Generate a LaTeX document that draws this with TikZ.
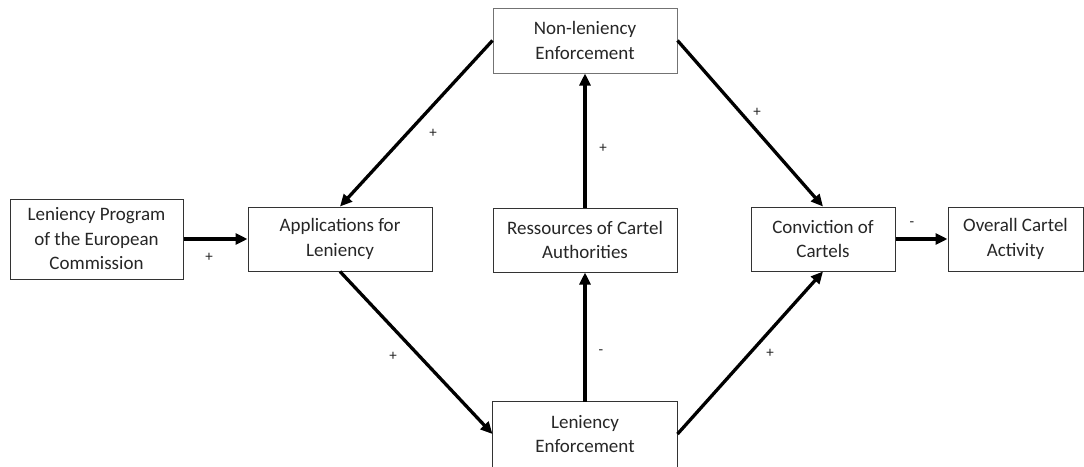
\documentclass[tikz,border=0pt]{standalone}
\usepackage{fontspec}
\setmainfont{Carlito}
\usetikzlibrary{arrows.meta}
\begin{document}
\begin{tikzpicture}[x=1pt,y=-1pt,
  box/.style={draw=black!80,line width=1pt,align=center,inner sep=0pt,
    text=black!85,font=\fontsize{19}{24.5}\selectfont},
  conn/.style={line width=3.3pt,-{Triangle[length=12pt,width=11pt]}},
  sign/.style={text=black!85,font=\fontsize{15}{16}\selectfont,inner sep=0pt}]
\useasboundingbox[fill=white] (0,0) rectangle (1084,466);
\node[box,minimum width=173pt,minimum height=80pt] (lp) at (96.5,239) {Leniency Program\\of the European\\Commission};
\node[box,minimum width=184pt,minimum height=64pt] (app) at (340,239) {Applications for\\Leniency};
\node[box,minimum width=184pt,minimum height=64pt] (res) at (585,240) {Ressources of Cartel\\Authorities};
\node[box,draw=black!55,minimum width=184pt,minimum height=65pt] (nl) at (585,40.5) {Non-leniency\\Enforcement};
\node[box,draw=none,minimum width=184pt,minimum height=64pt] (le) at (585,434) {Leniency\\Enforcement};
\draw[black!80,line width=1pt] (le.north west) rectangle ([yshift=-12pt]le.south east);
\node[box,minimum width=144pt,minimum height=64pt] (conv) at (823,239) {Conviction of\\Cartels};
\node[box,minimum width=135pt,minimum height=64pt] (ov) at (1015.5,239) {Overall Cartel\\Activity};
\draw[conn] (lp.east) -- (app.west);
\draw[conn] (nl.west) -- (app.north);
\draw[conn] (app.south) -- (le.west);
\draw[conn] (le.north) -- (res.south);
\draw[conn] (res.north) -- (nl.south);
\draw[conn] (nl.east) -- (conv.north);
\draw[conn] (le.east) -- (conv.south);
\draw[conn] (conv.east) -- (ov.west);
\node[sign] (s1) at (209,257) {+};
\node[sign] (s2) at (433,133) {+};
\node[sign] (s3) at (393,356) {+};
\node[sign] (s4) at (603,148) {+};
\node[sign] (s5) at (601,352) {-};
\node[sign] (s6) at (757,112) {+};
\node[sign] (s7) at (770,353) {+};
\node[sign] (s8) at (912,224) {-};
\end{tikzpicture}
\end{document}
